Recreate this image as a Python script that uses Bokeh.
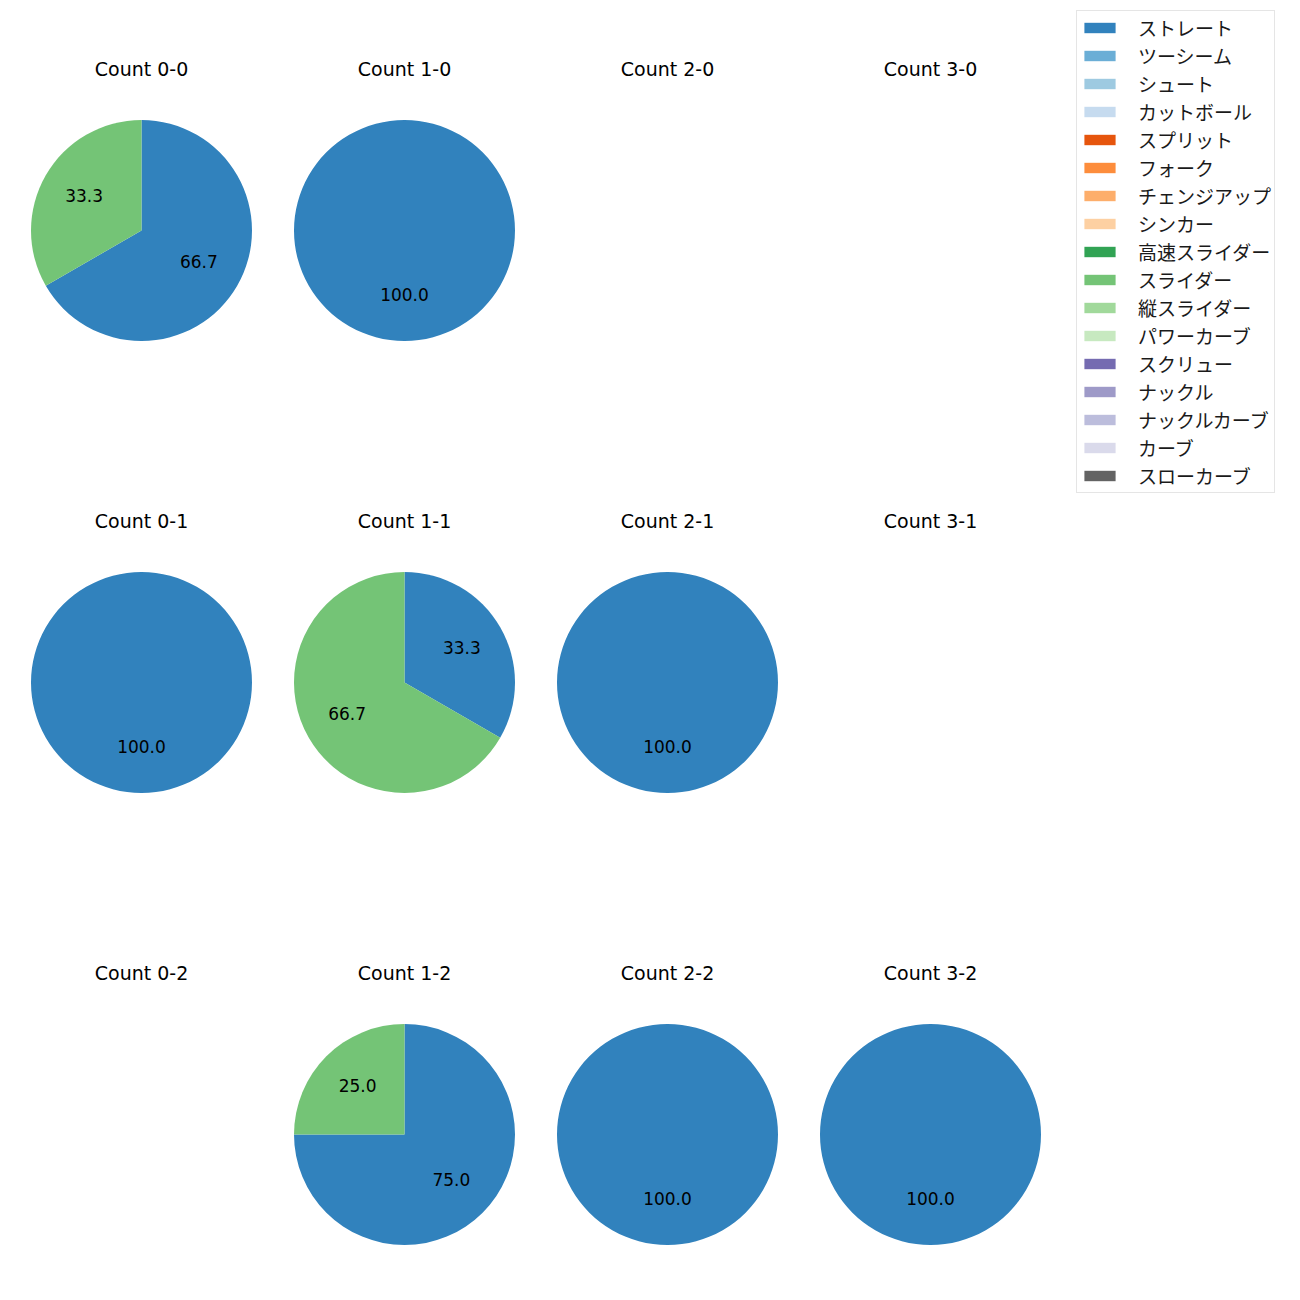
import numpy as np
from bokeh.plotting import figure
from bokeh.models import Range1d, ColumnDataSource, Legend, LegendItem
from bokeh.core.properties import value
from bokeh.embed import file_html
from bokeh.resources import INLINE

# ---- data ----
pitch_types = ["ストレート", "ツーシーム", "シュート", "カットボール", "スプリット", "フォーク",
               "チェンジアップ", "シンカー", "高速スライダー", "スライダー", "縦スライダー",
               "パワーカーブ", "スクリュー", "ナックル", "ナックルカーブ", "カーブ", "スローカーブ"]
pitch_colors = ["#3182bd", "#6baed6", "#9ecae1", "#c6dbef", "#e6550d", "#fd8d3c",
                "#fdae6b", "#fdd0a2", "#31a354", "#74c476", "#a1d99b", "#c7e9c0",
                "#756bb1", "#9e9ac8", "#bcbddc", "#dadaeb", "#636363"]

balls = [0, 1, 2, 3]
strikes = [0, 1, 2]
# counts per cell: (balls, strikes) -> pitches
straight = {(0, 0): 2, (1, 0): 1, (2, 0): 0, (3, 0): 0,
            (0, 1): 1, (1, 1): 1, (2, 1): 1, (3, 1): 0,
            (0, 2): 0, (1, 2): 3, (2, 2): 1, (3, 2): 1}
slider = {(0, 0): 1, (1, 0): 0, (2, 0): 0, (3, 0): 0,
          (0, 1): 0, (1, 1): 2, (2, 1): 0, (3, 1): 0,
          (0, 2): 0, (1, 2): 1, (2, 2): 0, (3, 2): 0}

# ---- layout (screen pixels) ----
W = H = 1284
col_x = [141, 404, 667, 930]
row_y = [230, 682, 1134]
R = 110.5
TITLE_DY = 161

p = figure(width=W, height=H, output_backend="svg", toolbar_location=None,
           x_range=Range1d(0, W), y_range=Range1d(1300 - H, 1300),
           min_border=0)
p.axis.visible = False
p.grid.visible = False
p.outline_line_color = None

JP_FONT = "Noto Sans CJK JP"
LAT_FONT = "DejaVu Sans"

wx, wy, ws, we, wc = [], [], [], [], []
lx, ly, lt = [], [], []
tx, ty, tt = [], [], []
for si, s in enumerate(strikes):
    for bi, b in enumerate(balls):
        cx = col_x[bi]
        cy = 1300 - row_y[si]
        tx.append(cx); ty.append(cy + TITLE_DY); tt.append(f"Count {b}-{s}")
        vals = [straight[(b, s)], slider[(b, s)]]
        cols = [pitch_colors[0], pitch_colors[9]]
        tot = sum(vals)
        if tot == 0:
            continue
        cum = 0.0
        for v, c in zip(vals, cols):
            if v == 0:
                continue
            frac = v / tot
            a0 = np.pi / 2 - 2 * np.pi * cum
            a1 = np.pi / 2 - 2 * np.pi * (cum + frac)
            mid = (a0 + a1) / 2
            if frac >= 1.0:
                a1 = a0 - 2 * np.pi + 1e-4
            wx.append(cx); wy.append(cy); ws.append(a0); we.append(a1); wc.append(c)
            lx.append(cx + 0.6 * R * np.cos(mid)); ly.append(cy + 0.6 * R * np.sin(mid))
            lt.append(f"{frac * 100:.1f}")
            cum += frac

src = ColumnDataSource(dict(x=wx, y=wy, s=ws, e=we, c=wc))
p.wedge(x="x", y="y", radius=R, start_angle="s", end_angle="e", direction="clock",
        fill_color="c", line_color=None, source=src)

p.text(x=lx, y=ly, text=lt, text_align="center", text_baseline="middle", y_offset=-2,
       text_font=value(LAT_FONT), text_font_size="17px", text_color="#000000")
p.text(x=tx, y=ty, text=tt, text_align="center", text_baseline="middle", y_offset=-1,
       text_font=value(LAT_FONT), text_font_size="19px", text_color="#000000")

items = []
for name, col in zip(pitch_types, pitch_colors):
    r = p.rect(x=[np.nan], y=[np.nan], width=1, height=1, fill_color=col, line_color=None)
    items.append(LegendItem(label=name, renderers=[r]))

legend = Legend(items=items, location=(1076, 791), margin=0, padding=3,
                spacing=1, label_height=20, glyph_height=13, glyph_width=39,
                label_standoff=19, label_text_font=JP_FONT, label_text_font_size="19px",
                label_text_color="#1a1a1a",
                border_line_color="#cccccc", background_fill_color="white",
                background_fill_alpha=1.0)
p.add_layout(legend)

open("out.html", "w").write(file_html(p, INLINE))
